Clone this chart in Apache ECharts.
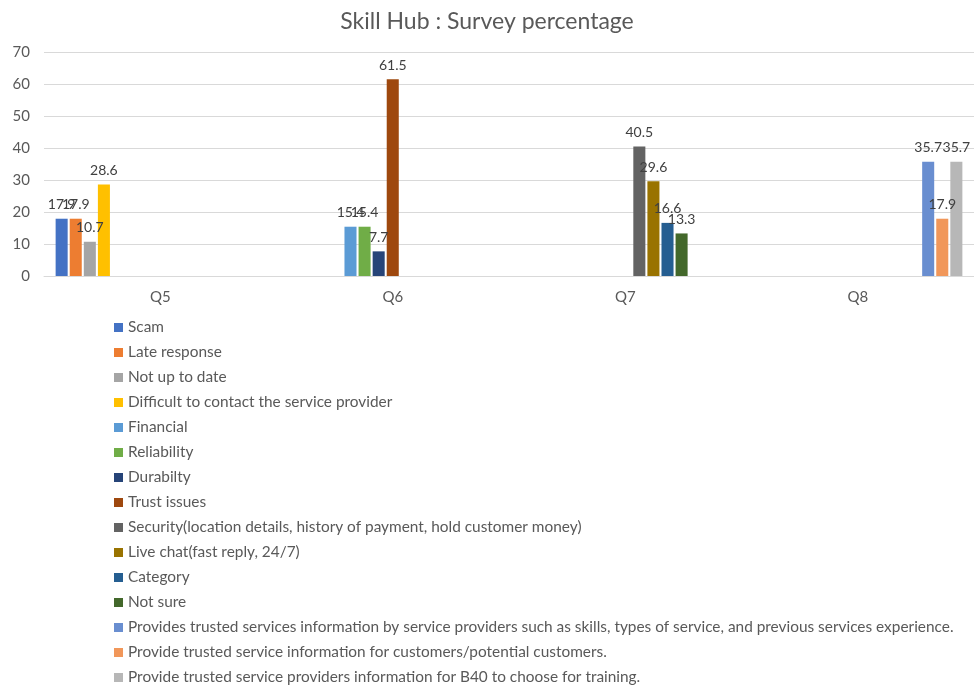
<!DOCTYPE html>
<html>
<head>
<meta charset="utf-8">
<script src="https://cdn.jsdelivr.net/npm/echarts@6/dist/echarts.min.js"></script>
<style>
  html, body { margin: 0; padding: 0; background: #fff; }
  #main { width: 974px; height: 686px; }
</style>
</head>
<body>
<div id="main"></div>
<script>
// categories and series (one value per question, null where the option was not asked)
var questions = ['Q5', 'Q6', 'Q7', 'Q8'];

var scam        = [17.9, null, null, null];
var lateResp    = [17.9, null, null, null];
var notUpToDate = [10.7, null, null, null];
var difficult   = [28.6, null, null, null];
var financial   = [null, 15.4, null, null];
var reliability = [null, 15.4, null, null];
var durability  = [null, 7.7, null, null];
var trustIssues = [null, 61.5, null, null];
var security    = [null, null, 40.5, null];
var liveChat    = [null, null, 29.6, null];
var category    = [null, null, 16.6, null];
var notSure     = [null, null, 13.3, null];
var providesBy  = [null, null, null, 35.7];
var provideCust = [null, null, null, 17.9];
var provideB40  = [null, null, null, 35.7];

var seriesNames = [
    'Scam',
    'Late response',
    'Not up to date',
    'Difficult to contact the service provider',
    'Financial',
    'Reliability',
    'Durabilty',
    'Trust issues',
    'Security(location details, history of payment, hold customer money)',
    'Live chat(fast reply, 24/7)',
    'Category',
    'Not sure',
    'Provides trusted services information by service providers such as skills, types of service, and previous services experience.',
    'Provide trusted service information for customers/potential customers.',
    'Provide trusted service providers information for B40 to choose for training.'
];
var seriesData = [scam, lateResp, notUpToDate, difficult, financial, reliability, durability,
    trustIssues, security, liveChat, category, notSure, providesBy, provideCust, provideB40];

var colors = ['#4472C4', '#ED7D31', '#A5A5A5', '#FFC000', '#5B9BD5', '#70AD47', '#264478',
    '#9E480E', '#636363', '#997300', '#255E91', '#43682B', '#698ED0', '#F1975A', '#B7B7B7'];

var yTicks = { min: 0, max: 70, interval: 10 };

var fontFam = 'Lato, "Open Sans", sans-serif';

var series = seriesNames.map(function (name, i) {
    return {
        name: name,
        type: 'bar',
        data: seriesData[i],
        barGap: '17%',
        barCategoryGap: '10%',
        itemStyle: { color: colors[i] },
        label: {
            show: true,
            position: 'top',
            distance: 7,
            color: '#404040',
            fontSize: 14,
            fontFamily: fontFam
        }
    };
});

var myChart = echarts.init(document.getElementById('main'));
myChart.setOption({
    animation: false,
    color: colors,
    title: {
        text: 'Skill Hub : Survey percentage',
        left: 'center',
        top: 5,
        textStyle: {
            color: '#595959',
            fontSize: 23,
            fontWeight: 'normal',
            fontFamily: fontFam
        }
    },
    grid: {
        left: 44,
        right: 0,
        top: 52,
        bottom: 410,
        containLabel: false
    },
    legend: {
        orient: 'vertical',
        left: 109,
        top: 315,
        height: 380,
        icon: 'rect',
        itemWidth: 9,
        itemHeight: 9,
        itemGap: 10,
        textStyle: {
            color: '#595959',
            fontSize: 15.4,
            lineHeight: 15,
            fontFamily: fontFam
        },
        data: seriesNames
    },
    xAxis: {
        type: 'category',
        data: questions,
        axisLine: { lineStyle: { color: '#D9D9D9' } },
        axisTick: { show: false },
        axisLabel: {
            color: '#595959',
            fontSize: 15,
            margin: 14,
            fontFamily: fontFam
        }
    },
    yAxis: {
        type: 'value',
        min: yTicks.min,
        max: yTicks.max,
        interval: yTicks.interval,
        axisLine: { show: false },
        axisTick: { show: false },
        axisLabel: {
            color: '#595959',
            fontSize: 15,
            margin: 14,
            fontFamily: fontFam
        },
        splitLine: { lineStyle: { color: '#D9D9D9' } }
    },
    series: series
});
</script>
</body>
</html>
